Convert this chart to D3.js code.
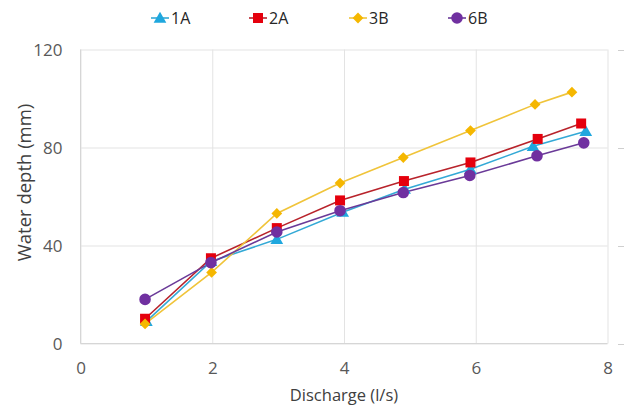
<!DOCTYPE html>
<html>
<head>
<meta charset="utf-8">
<script src="https://cdn.jsdelivr.net/npm/d3@7"></script>
<style>
  html, body { margin: 0; padding: 0; background: #fff; }
  svg { display: block; }
  text { font-family: "Open Sans", "Liberation Sans", sans-serif; }
</style>
</head>
<body>
<div id="chart"></div>
<script>
// ---- data ----
const seriesNames = ["1A", "2A", "3B", "6B"];
const x1A = [1.00, 1.98, 2.98, 3.98, 4.92, 5.92, 6.87, 7.67];
const y1A = [9.0, 33.5, 42.5, 53.6, 63.0, 71.1, 80.5, 86.6];
const x2A = [0.98, 1.98, 2.98, 3.94, 4.91, 5.92, 6.94, 7.60];
const y2A = [10.1, 34.8, 47.1, 58.4, 66.3, 73.9, 83.5, 89.8];
const x3B = [0.98, 1.99, 2.98, 3.94, 4.90, 5.92, 6.90, 7.46];
const y3B = [8.0, 29.0, 53.1, 65.5, 75.9, 86.9, 97.6, 102.6];
const x6B = [0.98, 1.98, 2.98, 3.94, 4.90, 5.91, 6.93, 7.64];
const y6B = [18.0, 33.0, 45.5, 54.2, 61.6, 68.6, 76.6, 81.9];
const xTicks = [0, 2, 4, 6, 8];
const yTicks = [0, 40, 80, 120];
const xTitle = "Discharge (l/s)";
const yTitle = "Water depth (mm)";

const series = [
  { name: seriesNames[0], xs: x1A, ys: y1A, color: "#1fa7de", line: "#33a9d6", shape: d3.symbolTriangle, size: 70, rot: 0, dy: 1 },
  { name: seriesNames[1], xs: x2A, ys: y2A, color: "#e5000d", line: "#b8232b", shape: d3.symbolSquare, size: 100, rot: 0, dy: 0 },
  { name: seriesNames[2], xs: x3B, ys: y3B, color: "#f5b700", line: "#f0c43a", shape: d3.symbolSquare, size: 58, rot: 45, dy: 0 },
  { name: seriesNames[3], xs: x6B, ys: y6B, color: "#7030a0", line: "#6a3a98", shape: d3.symbolCircle, size: 105, rot: 0, dy: 0 }
];

// ---- layout ----
const W = 624, H = 412;
const pL = 80.5, pR = 607.5, pT = 49.5, pB = 343.5;

const svg = d3.select("#chart").append("svg").attr("width", W).attr("height", H);

const x = d3.scaleLinear().domain([0, 8]).range([pL, pR]);
const y = d3.scaleLinear().domain([0, 120]).range([pB, pT]);

// gridlines
const gx = svg.append("g").attr("transform", `translate(0,${pB})`)
  .call(d3.axisBottom(x).tickValues(xTicks).tickSize(-(pB - pT)).tickFormat(""));
gx.select(".domain").remove();
gx.selectAll("line").attr("stroke", "#e3e3e3").attr("stroke-width", 1);

const gy = svg.append("g").attr("transform", `translate(${pL},0)`)
  .call(d3.axisLeft(y).tickValues(yTicks).tickSize(-(pR - pL)).tickFormat(""));
gy.select(".domain").remove();
gy.selectAll("line").attr("stroke", "#e3e3e3").attr("stroke-width", 1);

// axis lines
svg.append("line").attr("x1", pL).attr("x2", pR).attr("y1", pB).attr("y2", pB)
  .attr("stroke", "#d6d6d6").attr("stroke-width", 1);
svg.append("line").attr("x1", pL).attr("x2", pL).attr("y1", pT).attr("y2", pB)
  .attr("stroke", "#d6d6d6").attr("stroke-width", 1);

// tick labels
const xl = svg.append("g").attr("transform", `translate(0,${pB})`)
  .call(d3.axisBottom(x).tickValues(xTicks).tickSize(0).tickPadding(0).tickFormat(d3.format("d")));
xl.select(".domain").remove();
xl.selectAll("text").attr("y", 30).attr("dy", 0)
  .style("font-family", "'Open Sans', sans-serif").style("font-size", "17px").attr("fill", "#595959");

const yl = svg.append("g").attr("transform", `translate(${pL},0)`)
  .call(d3.axisLeft(y).tickValues(yTicks).tickSize(0).tickPadding(18).tickFormat(d3.format("d")));
yl.select(".domain").remove();
yl.selectAll("text").attr("dy", "0.36em")
  .style("font-family", "'Open Sans', sans-serif").style("font-size", "17px").attr("fill", "#595959");

// stray ticks at right edge (neighbouring axis)
svg.append("g").selectAll("line").data(yTicks).join("line")
  .attr("x1", 618).attr("x2", 624).attr("y1", d => y(d) + 1).attr("y2", d => y(d) + 1)
  .attr("stroke", "#cfcfcf").attr("stroke-width", 1);

// titles
svg.append("text").attr("x", (pL + pR) / 2).attr("y", 401).attr("text-anchor", "middle")
  .style("font-size", "16.5px").attr("fill", "#404040").text(xTitle);
svg.append("text").attr("transform", `translate(31,${(pT + pB) / 2 - 14}) rotate(-90)`)
  .attr("text-anchor", "middle").style("font-size", "18.5px").attr("fill", "#404040").text(yTitle);

// lines and markers
const lineGen = d3.line().x(d => x(d[0])).y(d => y(d[1]));
series.forEach(s => {
  const pts = s.xs.map((v, i) => [v, s.ys[i]]);
  svg.append("path").datum(pts).attr("d", lineGen).attr("fill", "none")
    .attr("stroke", s.line).attr("stroke-width", 1.6);
});
series.forEach(s => {
  const pts = s.xs.map((v, i) => [v, s.ys[i]]);
  const sym = d3.symbol().type(s.shape).size(s.size);
  svg.append("g").selectAll("path").data(pts).join("path")
    .attr("transform", d => `translate(${x(d[0])},${y(d[1]) + s.dy}) rotate(${s.rot})`)
    .attr("d", sym).attr("fill", s.color);
});

// legend
const legendX = [160, 258, 358, 457];
const legendY = 18;
series.forEach((s, i) => {
  const g = svg.append("g").attr("transform", `translate(${legendX[i]},${legendY})`);
  g.append("line").attr("x1", -9).attr("x2", 9).attr("y1", 0).attr("y2", 0)
    .attr("stroke", s.line).attr("stroke-width", 1.6);
  g.append("path").attr("d", d3.symbol().type(s.shape).size(s.size)())
    .attr("transform", `translate(0,${s.dy}) rotate(${s.rot})`)
    .attr("fill", s.color);
  g.append("text").attr("x", 11).attr("y", 0).attr("dy", "0.36em")
    .style("font-size", "16px").attr("fill", "#262626").text(s.name);
});
</script>
</body>
</html>
